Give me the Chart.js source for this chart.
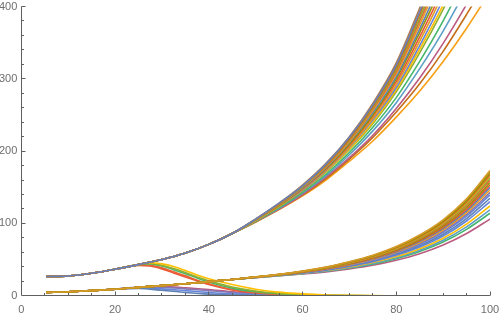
<!DOCTYPE html>
<html>
<head>
<meta charset="utf-8">
<script src="https://cdn.jsdelivr.net/npm/chart.js@4.4.0/dist/chart.umd.min.js"></script>
<style>
  html, body { margin: 0; padding: 0; background: #fff; }
  #wrap { width: 500px; height: 313px; }
</style>
</head>
<body>
<div id="wrap"><canvas id="chart"></canvas></div>
<script>
// shared start of both bundles
var trunkX = [5.3, 10, 15, 20, 25, 30, 35, 40, 45];
var upperTrunk = [26.5, 27.3, 31, 36.5, 43, 50, 59, 71, 86];
var lowerTrunk = [4.5, 5.5, 7, 9, 11.5, 14, 16.5, 19.5, 22.5];

// fanning tails
var fanX = [50, 55, 60, 65, 70, 75, 80, 85, 90, 95, 100];
var upperFan = [
  [106, 128, 153, 183, 220, 266, 322, 398, 480, 575, 680],
  [106, 128, 152, 182, 219, 264, 319, 393, 474, 567, 670],
  [106, 127, 152, 181, 217, 262, 316, 389, 468, 559, 659],
  [105, 127, 151, 180, 216, 260, 313, 384, 461, 550, 649],
  [105, 127, 151, 179, 215, 258, 310, 380, 455, 542, 638],
  [105, 126, 150, 178, 213, 256, 307, 375, 449, 534, 628],
  [105, 126, 149, 177, 212, 253, 303, 369, 441, 524, 615],
  [105, 125, 149, 176, 210, 250, 300, 364, 433, 514, 602],
  [105, 125, 148, 175, 208, 248, 296, 358, 425, 503, 589],
  [104, 124, 147, 174, 206, 245, 292, 352, 418, 493, 576],
  [104, 124, 146, 173, 205, 243, 288, 346, 410, 483, 563],
  [104, 124, 146, 172, 203, 240, 285, 341, 402, 473, 550],
  [104, 123, 145, 171, 202, 238, 282, 336, 396, 464, 540],
  [103, 122, 143, 168, 198, 233, 274, 324, 380, 444, 514],
  [103, 121, 142, 166, 195, 228, 267, 314, 366, 425, 490],
  [103, 120, 140, 164, 191, 222, 259, 301, 349, 403, 462],
  [102, 120, 139, 162, 189, 219, 254, 293, 338, 389, 443],
  [102, 119, 138, 160, 186, 214, 247, 283, 324, 370, 420]
];
var upperColors = ['#b07c4c', '#6a80b8', '#c56e1a', '#8fb032', '#eb6235', '#e19c24',
  '#5e81b5', '#929600', '#e95536', '#e19c24', '#6685d9', '#ffbf00',
  '#8fb032', '#47b66d', '#5d9ec7', '#bc5b80', '#c56e1a', '#f89f13'];

var lowerFan = [
  [26, 29.5, 34, 39.5, 47, 56, 68, 84, 105, 134, 173],
  [26, 29.4, 33.8, 39.2, 46.6, 55.4, 67.2, 83, 103.6, 132.1, 170.3],
  [25.9, 29.3, 33.7, 39, 46.2, 54.9, 66.5, 81.9, 102.2, 130.2, 167.6],
  [25.9, 29.3, 33.5, 38.7, 45.8, 54.3, 65.7, 80.9, 100.8, 128.2, 165],
  [25.8, 29.2, 33.4, 38.5, 45.4, 53.8, 65, 79.8, 99.4, 126.3, 162.3],
  [25.8, 29.1, 33.2, 38.2, 45, 53.2, 64.2, 78.8, 98, 124.4, 159.6],
  [25.7, 29, 33, 37.9, 44.5, 52.5, 63.2, 77.5, 96.2, 122, 156.2],
  [25.7, 28.9, 32.8, 37.5, 44, 51.8, 62.3, 76.2, 94.5, 119.6, 152.9],
  [25.6, 28.8, 32.6, 37.2, 43.5, 51.1, 61.3, 74.9, 92.7, 117.2, 149.5],
  [25.6, 28.7, 32.4, 36.9, 43, 50.4, 60.4, 73.6, 91, 114.8, 146.2],
  [25.5, 28.6, 32.2, 36.6, 42.5, 49.7, 59.4, 72.3, 89.2, 112.4, 142.8],
  [25.5, 28.5, 32, 36.2, 42, 49, 58.5, 71, 87.5, 110, 139.5],
  [25.4, 28.4, 31.7, 35.8, 41.3, 48, 57.2, 69.2, 85, 106.6, 134.8],
  [25.4, 28.2, 31.4, 35.4, 40.6, 47, 55.8, 67.4, 82.6, 103.3, 130.1],
  [25.3, 28, 31.1, 34.8, 39.7, 45.8, 54.1, 65, 79.5, 99, 124.1],
  [25.2, 27.9, 30.8, 34.2, 38.9, 44.7, 52.6, 62.9, 76.6, 95.1, 118.7],
  [25.1, 27.7, 30.5, 33.8, 38.2, 43.7, 51.3, 61.1, 74.2, 91.8, 114],
  [25, 27.5, 30, 33, 37, 42, 49, 58, 70, 86, 106]
];
var lowerColors = ['#d69a2a', '#929600', '#c56e1a', '#e19c24', '#8fb032', '#eb6235',
  '#929600', '#e95536', '#5e81b5', '#f89f13', '#8778b3', '#6685d9',
  '#5e81b5', '#6685d9', '#ffbf00', '#5d9ec7', '#47b66d', '#bc5b80'];

// curves that leave the upper bundle and fall towards zero
var upperDropX = [20, 25, 27.5, 30, 32.5, 35, 37.5, 40, 45, 50, 55, 60, 65, 70, 75, 80];
var upperDrop = [
  [36.5, 43, 45.5, 44, 40.5, 35, 28.5, 23.5, 15.5, 9, 5, 2.5, 1, 0.4, 0.1, 0],
  [36.5, 43, 44.5, 42, 37.5, 32, 26, 20.5, 12, 6.5, 3.2, 1.5, 0.6, 0.2, 0, 0],
  [36.5, 43, 44, 41, 36, 30.5, 24.5, 19, 10.5, 5.5, 2.8, 1.2, 0.5, 0.2, 0, 0],
  [36.5, 42.5, 42, 38.5, 33, 27.5, 21.5, 16.5, 8.5, 4.2, 2, 0.8, 0.3, 0, 0, 0],
  [36.5, 42, 41, 37, 31.5, 26, 20.5, 15.5, 8, 4, 1.8, 0.7, 0.2, 0, 0, 0]
];
var upperDropColors = ['#ffbf00', '#8fb032', '#47b66d', '#eb6235', '#e95536'];

// curves that leave the lower bundle and fall towards zero
var lowerDropX = [15, 20, 25, 30, 35, 40, 45, 50, 55, 60, 65];
var lowerDrop = [
  [7, 9, 10, 7.5, 4.5, 2.2, 1, 0.4, 0.1, 0, 0],
  [7, 9, 11, 9.5, 7, 4.5, 2.5, 1.2, 0.5, 0.2, 0],
  [7, 9, 11.5, 11.5, 9.5, 7, 4.5, 2.5, 1.2, 0.5, 0.1],
  [7, 9, 11.5, 12.5, 11, 8.5, 5.5, 3.2, 1.6, 0.6, 0.1]
];
var lowerDropColors = ['#5e81b5', '#6685d9', '#8778b3', '#bc5b80'];

function pairs(xs, ys) {
  var out = [];
  for (var i = 0; i < xs.length; i++) out.push({x: xs[i], y: ys[i]});
  return out;
}

function curve(points, color, order) {
  return {
    data: points,
    borderColor: color,
    borderWidth: 1.6,
    pointRadius: 0,
    fill: false,
    order: order,
    cubicInterpolationMode: 'monotone'
  };
}

// lower order is painted later, i.e. on top
var datasets = [];
for (var i = 0; i < upperFan.length; i++) {
  datasets.push(curve(pairs(trunkX.concat(fanX), upperTrunk.concat(upperFan[i])),
    upperColors[i], i === 1 ? -1 : 0));
}
for (var j = 0; j < lowerFan.length; j++) {
  datasets.push(curve(pairs(trunkX.concat(fanX), lowerTrunk.concat(lowerFan[j])), lowerColors[j], 0));
}
upperDrop.forEach(function (ys, k) {
  datasets.push(curve(pairs(upperDropX, ys), upperDropColors[k], 1));
});
lowerDrop.forEach(function (ys, k) {
  datasets.push(curve(pairs(lowerDropX, ys), lowerDropColors[k], 1));
});

var axisColor = '#5f5f5f';
var labelColor = '#6e6e6e';

// mathematica style axes: lines through the origin, ticks pointing inward
var axesPlugin = {
  id: 'mmaAxes',
  afterDatasetsDraw: function (chart) {
    var ctx = chart.ctx;
    var xs = chart.scales.x, ys = chart.scales.y;
    var ax = Math.floor(xs.getPixelForValue(0)) + 0.5;
    var ay = Math.floor(ys.getPixelForValue(0)) + 0.5;
    ctx.save();
    ctx.strokeStyle = axisColor;
    ctx.lineWidth = 1;
    ctx.beginPath();
    ctx.moveTo(ax, ys.getPixelForValue(400));
    ctx.lineTo(ax, ay);
    ctx.lineTo(xs.getPixelForValue(100), ay);
    for (var v = 20; v <= 400; v += 20) {
      var py = Math.floor(ys.getPixelForValue(v)) + 0.5;
      ctx.moveTo(ax, py);
      ctx.lineTo(ax + (v % 100 === 0 ? 4 : 2.5), py);
    }
    for (var u = 5; u <= 100; u += 5) {
      var px = Math.floor(xs.getPixelForValue(u)) + 0.5;
      ctx.moveTo(px, ay);
      ctx.lineTo(px, ay - (u % 20 === 0 ? 4 : 2.5));
    }
    ctx.stroke();
    ctx.restore();
  }
};

var tickFont = {family: 'Liberation Sans', size: 11};

new Chart(document.getElementById('chart'), {
  type: 'line',
  data: {datasets: datasets},
  options: {
    responsive: true,
    maintainAspectRatio: false,
    animation: false,
    events: [],
    layout: {padding: {left: 0, right: 10, top: 6.5, bottom: 0}},
    plugins: {legend: {display: false}, tooltip: {enabled: false}},
    scales: {
      x: {
        type: 'linear', min: 0, max: 100,
        grid: {display: false, drawTicks: false}, border: {display: false},
        ticks: {stepSize: 20, color: labelColor, font: tickFont, padding: 8, maxRotation: 0},
        afterFit: function (scale) {
          scale.height = 17.3;
          scale.paddingLeft = 0;
          scale.paddingRight = 0;
        }
      },
      y: {
        type: 'linear', min: 0, max: 400,
        grid: {display: false, drawTicks: false}, border: {display: false},
        ticks: {stepSize: 100, color: labelColor, font: tickFont, padding: 4},
        afterFit: function (scale) {
          scale.width = 21.3;
          scale.paddingTop = 0;
          scale.paddingBottom = 0;
        }
      }
    }
  },
  plugins: [axesPlugin]
});
</script>
</body>
</html>
